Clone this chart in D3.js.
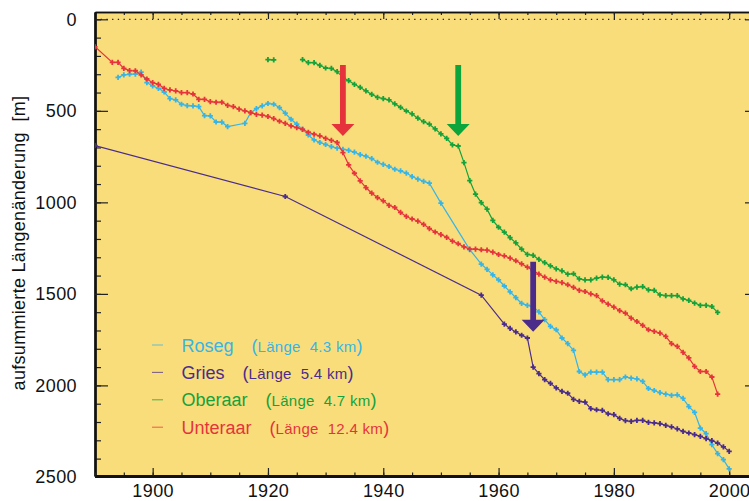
<!DOCTYPE html>
<html>
<head>
<meta charset="utf-8">
<script src="https://cdn.jsdelivr.net/npm/d3@7"></script>
<style>
  body { margin: 0; background: #fff; }
  svg { display: block; font-family: "Liberation Sans", Arial, Helvetica, sans-serif; }
</style>
</head>
<body>
<svg width="749" height="501"></svg>
<script>
// Gletscher: aufsummierte Längenänderung [m]
var rosegYears = [1894,1895,1896,1897,1898,1899,1900,1901,1902,1903,1904,1905,1906,1907,1908,1909,1910,1911,1912,1913,
  1916,1917,1918,1919,1920,1921,1922,1923,1924,1925,1926,1927,1928,1929,1930,1931,1932,1933,1934,1935,1936,1937,1938,1939,
  1940,1941,1942,1943,1944,1945,1946,1947,1948,1950,1955,1957,1958,1959,1960,1961,1962,1963,1964,1965,1966,1967,1968,1969,
  1970,1971,1972,1973,1974,1975,1976,1977,1978,1979,1980,1981,1982,1983,1984,1985,1986,1987,1988,1989,1990,1991,1992,1993,
  1994,1995,1996,1997,1998,1999,2000];
var rosegValues = [317,304,300,299,288,346,364,377,397,433,440,464,471,473,477,526,528,561,562,586,
  568,510,488,473,460,464,482,513,546,573,601,632,659,673,684,695,704,710,716,726,739,748,761,781,
  793,804,819,828,840,859,873,885,895,1004,1258,1337,1366,1396,1423,1457,1489,1521,1552,1563,1570,1598,1641,1678,
  1696,1741,1772,1809,1924,1942,1928,1928,1928,1969,1969,1969,1954,1960,1964,1978,2017,2028,2040,2048,2054,2052,2071,2116,
  2147,2233,2264,2324,2373,2406,2456];

var griesYears = [1890,1923,1957,1961,1962,1963,1964,1965,1966,1967,1968,1969,1970,1971,1972,1973,1974,1975,1976,1977,
  1978,1979,1980,1981,1982,1983,1984,1985,1986,1987,1988,1989,1990,1991,1992,1993,1994,1995,1996,1997,1998,1999,2000];
var griesValues = [690,968,1507,1665,1689,1708,1726,1741,1900,1936,1969,1989,2014,2033,2043,2076,2087,2091,2127,2133,
  2136,2155,2160,2180,2193,2197,2191,2191,2202,2205,2209,2218,2227,2238,2251,2260,2269,2278,2291,2302,2315,2336,2360];

// null = Lücke in der Messreihe
var oberaarYears = [1920,1921,1922,1926,1927,1928,1929,1930,1931,1932,1933,1934,1935,1936,1937,1938,1939,1940,1941,1942,
  1943,1944,1945,1946,1947,1948,1949,1950,1951,1952,1953,1954,1955,1956,1957,1958,1959,1960,1961,1962,1963,1964,1965,
  1966,1967,1968,1969,1970,1971,1972,1973,1974,1975,1976,1977,1978,1979,1980,1981,1982,1983,1984,1985,1986,1987,1988,
  1989,1990,1991,1992,1993,1994,1995,1996,1997,1998];
var oberaarValues = [220,222,null,220,237,237,252,266,268,286,317,335,355,372,391,410,426,433,440,462,
  481,501,517,540,559,573,599,626,650,686,692,783,881,955,1001,1037,1098,1136,1163,1193,1221,1256,1284,
  1290,1312,1329,1347,1363,1374,1392,1390,1418,1423,1423,1414,1408,1410,1423,1447,1450,1472,1463,1460,1478,1481,1505,
  1509,1509,1510,1527,1536,1550,1563,1563,1569,1601];

var unteraarYears = [1890,1893,1894,1895,1896,1897,1898,1899,1900,1901,1902,1903,1904,1905,1906,1907,1908,1909,1910,
  1911,1912,1913,1914,1915,1916,1917,1918,1919,1920,1921,1922,1923,1924,1925,1926,1927,1928,1929,1930,1931,1932,1933,
  1934,1935,1936,1937,1938,1939,1940,1941,1942,1943,1944,1945,1946,1947,1948,1949,1950,1951,1952,1953,1954,1955,1956,
  1957,1958,1959,1960,1961,1962,1963,1964,1965,1966,1967,1968,1969,1970,1971,1972,1973,1974,1975,1976,1977,1978,1979,
  1980,1981,1982,1983,1984,1985,1986,1987,1988,1989,1990,1991,1992,1993,1994,1995,1996,1997,1998];
var unteraarValues = [150,235,235,268,280,281,304,326,346,355,377,386,391,400,400,408,437,437,450,
  453,453,470,477,491,500,510,519,523,531,542,557,568,582,592,601,617,628,637,650,661,673,728,
  795,841,883,919,950,974,992,1016,1028,1055,1077,1091,1102,1120,1143,1162,1176,1191,1212,1226,1243,1255,1256,
  1259,1261,1272,1285,1292,1305,1319,1336,1354,1372,1392,1409,1423,1432,1438,1450,1465,1481,1487,1500,1510,1538,1556,
  1572,1591,1605,1632,1651,1672,1696,1705,1714,1732,1772,1787,1820,1850,1896,1924,1924,1954,2048];

var glacierNames = ["Roseg", "Gries", "Oberaar", "Unteraar"];
var glacierLengths = ["4.3", "5.4", "4.7", "12.4"];

// Pfeile: Jahr, Anfang und Spitze (m)
var arrowYears = [1933, 1953, 1966];
var arrowFrom = [250, 250, 1325];
var arrowTo = [637, 637, 1707];

var xTickLabels = [1900, 1920, 1940, 1960, 1980, 2000];
var yTickLabels = [0, 500, 1000, 1500, 2000, 2500];

var colors = ["#35b5e8", "#4a2c8c", "#15a23b", "#e5343c"];
var arrowColors = ["#e5323b", "#0ca53b", "#4b2c8a"];

var svg = d3.select("svg");
var pLeft = 95, pRight = 758, pTop = 12, pBottom = 476;

var x = d3.scaleLinear().domain([1890, 2005]).range([pLeft, pRight]);
var y = d3.scaleLinear().domain([-40, 2495]).range([pTop, pBottom]);

svg.append("rect")
  .attr("x", pLeft).attr("y", pTop)
  .attr("width", pRight - pLeft).attr("height", pBottom - pTop)
  .attr("fill", "#fadd7b");

svg.append("clipPath").attr("id", "plot")
  .append("rect")
  .attr("x", pLeft).attr("y", pTop)
  .attr("width", pRight - pLeft).attr("height", pBottom - pTop);

// Nulllinie
svg.append("line")
  .attr("x1", pLeft).attr("x2", pRight)
  .attr("y1", y(0)).attr("y2", y(0))
  .attr("stroke", "#222").attr("stroke-width", 1.3)
  .attr("stroke-dasharray", "1.3,4.4");

var minorX = d3.range(1890, 2006, 5);
var minorY = d3.range(0, 2501, 100);
var fmt = d3.format("d");

function axisStyle(g, w) {
  g.select(".domain").attr("stroke", "#111").attr("stroke-width", w);
  g.selectAll(".tick line").attr("stroke", "#222").attr("stroke-width", 1.2);
}

// oben
svg.append("g").attr("transform", "translate(0," + pTop + ")")
  .call(d3.axisTop(x).tickValues(minorX).tickSize(-3).tickSizeOuter(0).tickFormat(""))
  .call(axisStyle, 1.5);
svg.append("g").attr("transform", "translate(0," + pTop + ")")
  .call(d3.axisTop(x).tickValues(xTickLabels).tickSize(-7).tickSizeOuter(0).tickFormat(""))
  .call(axisStyle, 1.5);

// rechts
svg.append("g").attr("transform", "translate(" + pRight + ",0)")
  .call(d3.axisRight(y).tickValues(minorY).tickSize(-6).tickSizeOuter(0).tickFormat(""))
  .call(axisStyle, 1.5);
svg.append("g").attr("transform", "translate(" + pRight + ",0)")
  .call(d3.axisRight(y).tickValues(yTickLabels).tickSize(-13).tickSizeOuter(0).tickFormat(""))
  .call(axisStyle, 1.5);

// links
svg.append("g").attr("transform", "translate(" + pLeft + ",0)")
  .call(d3.axisLeft(y).tickValues(minorY).tickSize(-6).tickSizeOuter(0).tickFormat(""))
  .call(axisStyle, 2.3);
var yAx = svg.append("g").attr("transform", "translate(" + pLeft + ",0)")
  .call(d3.axisLeft(y).tickValues(yTickLabels).tickSize(-13).tickSizeOuter(0).tickPadding(18).tickFormat(fmt))
  .call(axisStyle, 2.3);
yAx.selectAll("text").attr("font-size", 18).attr("fill", "#111")
  .attr("font-family", "'Liberation Sans', Arial, sans-serif").attr("letter-spacing", 0.4);

// unten
svg.append("g").attr("transform", "translate(0," + pBottom + ")")
  .call(d3.axisBottom(x).tickValues(minorX).tickSize(-3.5).tickSizeOuter(0).tickFormat(""))
  .call(axisStyle, 3);
var xAx = svg.append("g").attr("transform", "translate(0," + pBottom + ")")
  .call(d3.axisBottom(x).tickValues(xTickLabels).tickSize(-8).tickSizeOuter(0).tickFormat(fmt))
  .call(axisStyle, 3);
xAx.selectAll("text").attr("y", 21).attr("dy", null)
  .attr("font-size", 18).attr("fill", "#111")
  .attr("font-family", "'Liberation Sans', Arial, sans-serif").attr("letter-spacing", 0.4);

svg.append("text")
  .attr("transform", "translate(25," + 243 + ") rotate(-90)")
  .attr("text-anchor", "middle")
  .attr("font-size", 18).attr("fill", "#111").attr("letter-spacing", 0.3)
  .attr("xml:space", "preserve")
  .text("aufsummierte Längenänderung  [m]");

// Messreihen
var series = [
  { years: rosegYears, values: rosegValues },
  { years: griesYears, values: griesValues },
  { years: oberaarYears, values: oberaarValues },
  { years: unteraarYears, values: unteraarValues }
];

var line = d3.line()
  .defined(function(d) { return d[1] != null; })
  .x(function(d) { return x(d[0]); })
  .y(function(d) { return y(d[1]); });

var plot = svg.append("g").attr("clip-path", "url(#plot)");

series.forEach(function(s, i) {
  var pts = s.years.map(function(yr, j) { return [yr, s.values[j]]; });
  plot.append("path")
    .datum(pts)
    .attr("d", line)
    .attr("fill", "none")
    .attr("stroke", colors[i])
    .attr("stroke-width", 1.2);
  plot.selectAll(".m" + i)
    .data(pts.filter(function(d) { return d[1] != null; }))
    .enter().append("path")
    .attr("transform", function(d) { return "translate(" + x(d[0]) + "," + y(d[1]) + ")"; })
    .attr("d", "M-2.6,0H2.6M0,-2.6V2.6")
    .attr("stroke", colors[i])
    .attr("stroke-width", 1.8);
});

// Pfeile
arrowYears.forEach(function(yr, i) {
  var cx = x(yr), y0 = y(arrowFrom[i]), y1 = y(arrowTo[i]);
  var sw = 2.9, hw = 11.5, hl = 12;
  svg.append("path")
    .attr("d", "M" + (cx - sw) + "," + y0 + "H" + (cx + sw) + "V" + (y1 - hl) +
      "H" + (cx + hw) + "L" + cx + "," + y1 + "L" + (cx - hw) + "," + (y1 - hl) +
      "H" + (cx - sw) + "Z")
    .attr("fill", arrowColors[i]);
});

// Legende
var legend = svg.append("g");
glacierNames.forEach(function(name, i) {
  var ly = 345 + i * 27.4;
  legend.append("line")
    .attr("x1", 152).attr("x2", 163).attr("y1", ly).attr("y2", ly)
    .attr("stroke", colors[i]).attr("stroke-width", 1.1).attr("opacity", 0.7);
  var t = legend.append("text")
    .attr("x", 181.5).attr("y", ly + 6.5)
    .attr("font-size", 18).attr("fill", colors[i])
    .text(name);
  var w = t.node().getComputedTextLength();
  var p = legend.append("text")
    .attr("x", 181.5 + w + 18).attr("y", ly + 6.5)
    .attr("fill", colors[i])
    .attr("xml:space", "preserve");
  p.append("tspan").attr("font-size", 18).text("(");
  p.append("tspan").attr("font-size", 15).attr("letter-spacing", 0.3)
    .text("Länge  " + glacierLengths[i] + " km");
  p.append("tspan").attr("font-size", 18).text(")");
});
</script>
</body>
</html>
